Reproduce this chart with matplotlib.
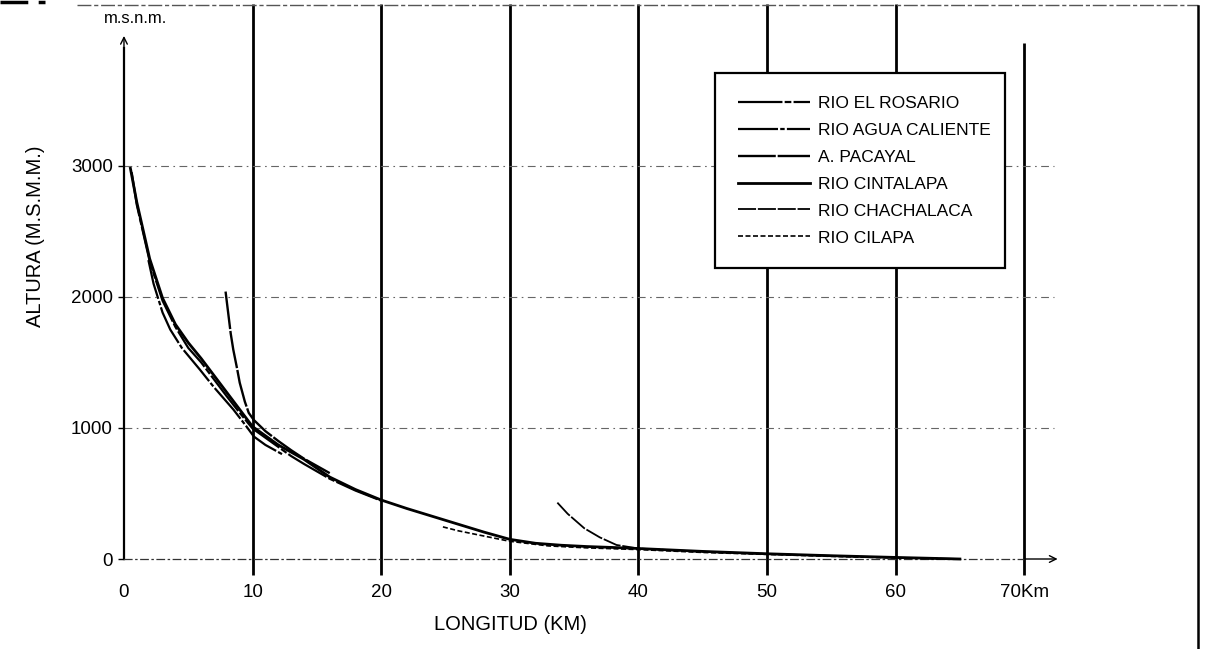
import matplotlib
matplotlib.use("Agg")
import matplotlib.pyplot as plt
import numpy as np

plt.rcParams['font.family'] = ['Liberation Sans', 'DejaVu Sans']

# ---------------- data ----------------
series_names = ["RIO EL ROSARIO", "RIO AGUA CALIENTE", "A. PACAYAL",
                "RIO CINTALAPA", "RIO CHACHALACA", "RIO CILAPA"]

rosario_km = [0.6, 1, 2, 3, 4, 5, 6, 7, 8, 9, 10, 11, 12, 13, 14, 16, 18, 20]
rosario_alt = [2950, 2700, 2270, 1970, 1770, 1610, 1500, 1370, 1240, 1115, 995,
               925, 855, 785, 725, 612, 522, 445]

agua_km = [1.9, 2.3, 3, 3.6, 4.5, 5.9, 7, 8.5, 9.5, 10.1, 11, 12.4]
agua_alt = [2280, 2100, 1880, 1750, 1610, 1445, 1310, 1141, 1014, 934, 870, 794]

pacayal_km = [7.9, 8.1, 8.3, 8.5, 8.8, 9.0, 9.4, 9.7, 10.1, 11, 12, 13, 14, 15, 16]
pacayal_alt = [2040, 1880, 1720, 1597, 1450, 1345, 1200, 1115, 1060, 975, 900,
               830, 765, 710, 655]

cintalapa_km = [0.5, 1, 2, 3, 4, 5, 6, 7, 8, 9, 10, 12, 14, 16, 18, 20, 22, 24,
                26, 28, 30, 32, 34, 36, 38, 40, 45, 50, 55, 60, 65]
cintalapa_alt = [2980, 2720, 2290, 1990, 1790, 1650, 1530, 1400, 1270, 1140, 1010,
                 870, 760, 625, 530, 450, 385, 325, 265, 205, 150, 120, 105, 95,
                 88, 80, 58, 40, 25, 12, 0]

chachalaca_km = [33.7, 34.5, 35.8, 37, 38.3, 40, 45, 50, 55, 60, 65]
chachalaca_alt = [430, 345, 234, 165, 107, 80, 55, 38, 24, 10, 0]

cilapa_km = [24.8, 26, 27.5, 30, 33, 36, 40, 45, 50, 55, 60, 64]
cilapa_alt = [245, 215, 185, 135, 100, 85, 72, 50, 35, 20, 8, 0]

x_ticks = [0, 10, 20, 30, 40, 50, 60, 70]
x_tick_labels = ["0", "10", "20", "30", "40", "50", "60", "70Km"]
y_ticks = [0, 1000, 2000, 3000]
y_tick_labels = ["0", "1000", "2000", "3000"]

# ---------------- figure ----------------
fig = plt.figure(figsize=(12.05, 6.49), dpi=100)
ax = fig.add_axes([0, 0, 1, 1])
ax.set_xlim(-9.64, 84.06)
ax.set_ylim(-686.5, 4264)

for s in ["top", "right"]:
    ax.spines[s].set_visible(False)
ax.spines["left"].set_position(("data", 0))
ax.spines["bottom"].set_position(("data", 0))
ax.spines["left"].set_bounds(0, 3900)
ax.spines["left"].set_linewidth(1.6)
ax.spines["bottom"].set_bounds(0, 70)
ax.spines["bottom"].set_linewidth(0.9)
ax.spines["bottom"].set_linestyle((0, (6, 3, 1, 3)))
ax.spines["bottom"].set_color("#333333")

ax.set_xticks(x_ticks)
ax.set_xticklabels(x_tick_labels)
ax.set_yticks(y_ticks)
ax.set_yticklabels(y_tick_labels)
ax.tick_params(axis="x", length=0, pad=18, labelsize=13.5)
ax.tick_params(axis="y", length=4, width=1, pad=4, labelsize=13.5)

# vertical grid lines (solid, heavy)
ax.vlines(x_ticks[1:-1], -122, 4230, colors="black", linewidth=2.0, zorder=1)
ax.vlines([x_ticks[-1]], -122, 3936, colors="black", linewidth=2.0, zorder=1)
# horizontal grid lines (light dash-dot)
ax.hlines(y_ticks[1:], 0, 72.3, colors="#666666", linewidth=0.8,
          linestyles=[(0, (7, 4, 1.5, 4))], zorder=1)

# axis arrows
ax.annotate("", xy=(72.6, 0), xytext=(70, 0),
            arrowprops=dict(arrowstyle="->", color="black", lw=1.0,
                            shrinkA=0, shrinkB=0, mutation_scale=12))
ax.annotate("", xy=(0, 3990), xytext=(0, 3850),
            arrowprops=dict(arrowstyle="->", color="black", lw=1.0,
                            shrinkA=0, shrinkB=0, mutation_scale=12))
ax.text(0.9, 4120, "m.s.n.m.", ha="center", va="center", fontsize=12)

# curves
styles = [
    dict(ls=(0, (20, 1, 3, 1)), lw=1.6),
    dict(ls=(0, (18, 1, 2, 1)), lw=1.6),
    dict(ls=(0, (16, 0.8)), lw=1.7),
    dict(ls="-", lw=2.0),
    dict(ls=(0, (10, 1)), lw=1.3),
    dict(ls=(0, (3, 1.5)), lw=1.2),
]
data = [(rosario_km, rosario_alt), (agua_km, agua_alt), (pacayal_km, pacayal_alt),
        (cintalapa_km, cintalapa_alt), (chachalaca_km, chachalaca_alt),
        (cilapa_km, cilapa_alt)]
handles = []
for name, (xs, ys), st in zip(series_names, data, styles):
    h, = ax.plot(xs, ys, color="black", linestyle=st["ls"], linewidth=st["lw"],
                 label=name, zorder=3)
    handles.append(h)

leg = ax.legend(handles=handles, loc="upper left",
                bbox_to_anchor=(715 / 1205, 1 - 73 / 649, 290 / 1205, 0.0),
                mode="expand", fontsize=12.5, frameon=True, fancybox=False,
                framealpha=1, facecolor="white", edgecolor="black",
                handlelength=4.2, handletextpad=0.45, labelspacing=0.68,
                borderpad=1.3, borderaxespad=0)
leg.get_frame().set_linewidth(1.6)
leg.set_zorder(10)

# axis titles
ax.text(510 / 1205, 1 - 624 / 649, "LONGITUD (KM)", transform=ax.transAxes,
        ha="center", va="center", fontsize=14.5)
ax.text(36 / 1205, 1 - 236 / 649, "ALTURA (M.S.M.M.)", transform=ax.transAxes,
        ha="center", va="center", rotation=90, fontsize=14.5)

# page frame fragments
ax.plot([77 / 1205, 1198 / 1205], [1 - 5 / 649, 1 - 5 / 649], transform=ax.transAxes,
        color="#555555", lw=1.0, ls=(0, (10, 2, 3, 2)), clip_on=False)
ax.plot([0, 45 / 1205], [1 - 2 / 649, 1 - 2 / 649], transform=ax.transAxes,
        color="black", lw=2.5, ls=(0, (8, 3)), clip_on=False)
ax.plot([1198 / 1205, 1198 / 1205], [1 - 6 / 649, 0], transform=ax.transAxes,
        color="black", lw=1.8, clip_on=False)

fig.savefig("out.png", dpi=100)
